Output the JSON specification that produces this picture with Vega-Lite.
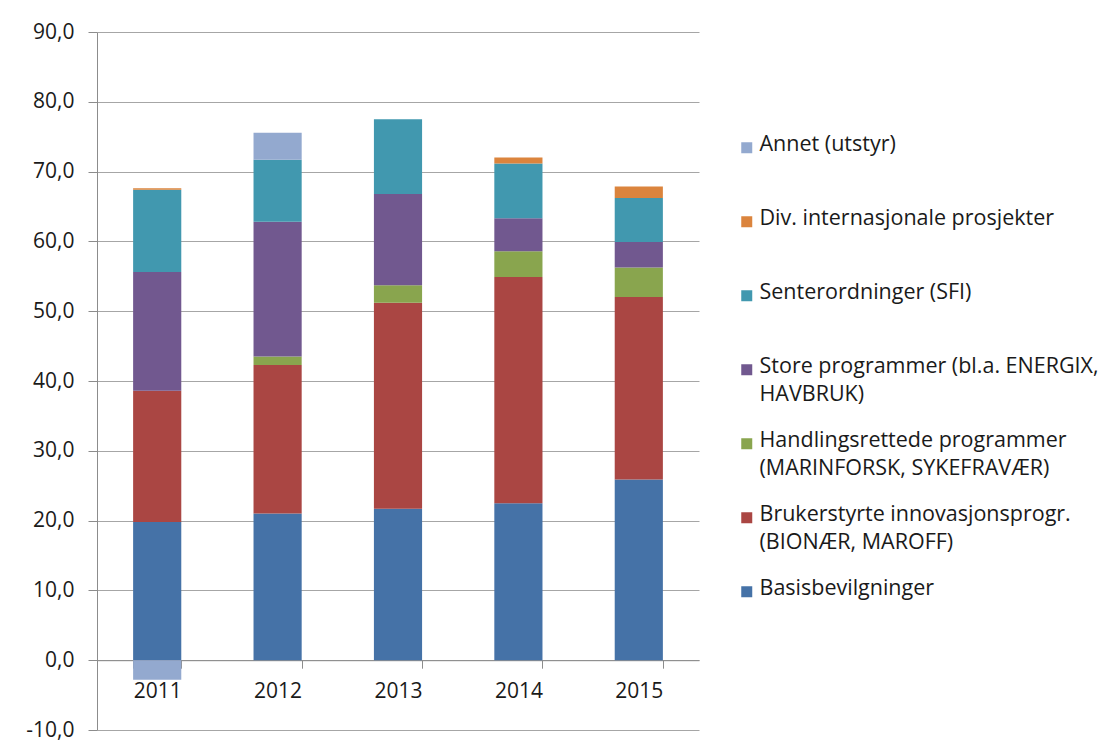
{
  "$schema": "https://vega.github.io/schema/vega-lite/v6.json",
  "width": 602,
  "height": 698,
  "autosize": "none",
  "padding": {"left": 97, "top": 32, "right": 407, "bottom": 23},
  "background": "white",
  "config": {
    "view": {"stroke": null},
    "font": "Open Sans",
    "axis": {"labelFont": "Open Sans", "labelFontSize": 21, "labelColor": "#1a1a1a", "domainColor": "#8c8c8c", "tickColor": "#8c8c8c", "gridColor": "#a6a6a6"}
  },
  "data": {
    "values": [
      {"year": "2011", "cat": "Basisbevilgninger", "value": 19.8},
      {"year": "2011", "cat": "Brukerstyrte innovasjonsprogr. (BIONÆR, MAROFF)", "value": 18.8},
      {"year": "2011", "cat": "Store programmer (bl.a. ENERGIX, HAVBRUK)", "value": 17.0},
      {"year": "2011", "cat": "Senterordninger (SFI)", "value": 11.8},
      {"year": "2011", "cat": "Div. internasjonale prosjekter", "value": 0.2},
      {"year": "2011", "cat": "Annet (utstyr)", "value": -2.8},
      {"year": "2012", "cat": "Basisbevilgninger", "value": 21.0},
      {"year": "2012", "cat": "Brukerstyrte innovasjonsprogr. (BIONÆR, MAROFF)", "value": 21.3},
      {"year": "2012", "cat": "Handlingsrettede programmer (MARINFORSK, SYKEFRAVÆR)", "value": 1.2},
      {"year": "2012", "cat": "Store programmer (bl.a. ENERGIX, HAVBRUK)", "value": 19.3},
      {"year": "2012", "cat": "Senterordninger (SFI)", "value": 8.9},
      {"year": "2012", "cat": "Annet (utstyr)", "value": 3.85},
      {"year": "2013", "cat": "Basisbevilgninger", "value": 21.7},
      {"year": "2013", "cat": "Brukerstyrte innovasjonsprogr. (BIONÆR, MAROFF)", "value": 29.5},
      {"year": "2013", "cat": "Handlingsrettede programmer (MARINFORSK, SYKEFRAVÆR)", "value": 2.5},
      {"year": "2013", "cat": "Store programmer (bl.a. ENERGIX, HAVBRUK)", "value": 13.1},
      {"year": "2013", "cat": "Senterordninger (SFI)", "value": 10.7},
      {"year": "2014", "cat": "Basisbevilgninger", "value": 22.5},
      {"year": "2014", "cat": "Brukerstyrte innovasjonsprogr. (BIONÆR, MAROFF)", "value": 32.4},
      {"year": "2014", "cat": "Handlingsrettede programmer (MARINFORSK, SYKEFRAVÆR)", "value": 3.7},
      {"year": "2014", "cat": "Store programmer (bl.a. ENERGIX, HAVBRUK)", "value": 4.7},
      {"year": "2014", "cat": "Senterordninger (SFI)", "value": 7.85},
      {"year": "2014", "cat": "Div. internasjonale prosjekter", "value": 0.86},
      {"year": "2015", "cat": "Basisbevilgninger", "value": 25.9},
      {"year": "2015", "cat": "Brukerstyrte innovasjonsprogr. (BIONÆR, MAROFF)", "value": 26.15},
      {"year": "2015", "cat": "Handlingsrettede programmer (MARINFORSK, SYKEFRAVÆR)", "value": 4.2},
      {"year": "2015", "cat": "Store programmer (bl.a. ENERGIX, HAVBRUK)", "value": 3.65},
      {"year": "2015", "cat": "Senterordninger (SFI)", "value": 6.3},
      {"year": "2015", "cat": "Div. internasjonale prosjekter", "value": 1.67}
    ]
  },
  "transform": [
    {"calculate": "indexof(['Basisbevilgninger', 'Brukerstyrte innovasjonsprogr. (BIONÆR, MAROFF)', 'Handlingsrettede programmer (MARINFORSK, SYKEFRAVÆR)', 'Store programmer (bl.a. ENERGIX, HAVBRUK)', 'Senterordninger (SFI)', 'Div. internasjonale prosjekter', 'Annet (utstyr)'], datum.cat)", "as": "stackOrder"}
  ],
  "mark": {"type": "bar"},
  "encoding": {
    "x": {
      "field": "year", "type": "nominal",
      "scale": {"paddingInner": 0.6, "paddingOuter": 0.3},
      "axis": {"title": null, "labelAngle": 0, "offset": -69.8, "tickBand": "extent", "tickSize": 8, "labelPadding": 12, "domainWidth": 1}
    },
    "y": {
      "field": "value", "type": "quantitative", "stack": "zero",
      "scale": {"domain": [-10, 90], "nice": false, "zero": false},
      "axis": {"title": null, "values": [-10, 0, 10, 20, 30, 40, 50, 60, 70, 80, 90], "tickSize": 9, "labelPadding": 14,
        "labelExpr": "replace(replace(format(datum.value, '.1f'), '.', ','), '\u2212', '-')", "grid": true}
    },
    "order": {"field": "stackOrder", "type": "quantitative", "sort": "ascending"},
    "color": {
      "field": "cat", "type": "nominal",
      "scale": {
        "domain": ["Basisbevilgninger", "Brukerstyrte innovasjonsprogr. (BIONÆR, MAROFF)", "Handlingsrettede programmer (MARINFORSK, SYKEFRAVÆR)", "Store programmer (bl.a. ENERGIX, HAVBRUK)", "Senterordninger (SFI)", "Div. internasjonale prosjekter", "Annet (utstyr)"],
        "range": ["#4572A7", "#AA4643", "#89A54E", "#71588F", "#4198AF", "#DB843D", "#93A9CF"]
      },
      "legend": {
        "title": null,
        "orient": "none",
        "legendX": 639,
        "legendY": 105,
        "padding": 0,
        "values": ["Annet (utstyr)", "Div. internasjonale prosjekter", "Senterordninger (SFI)", "Store programmer (bl.a. ENERGIX, HAVBRUK)", "Handlingsrettede programmer (MARINFORSK, SYKEFRAVÆR)", "Brukerstyrte innovasjonsprogr. (BIONÆR, MAROFF)", "Basisbevilgninger"],
        "symbolType": "square",
        "symbolSize": 121,
        "symbolStrokeWidth": 0,
        "labelFont": "Open Sans",
        "labelFontSize": 21.5,
        "labelColor": "#1a1a1a",
        "labelLimit": 500,
        "labelOffset": 2,
        "labelBaseline": "top",
        "rowPadding": 23,
        "labelExpr": "datum.label == 'Store programmer (bl.a. ENERGIX, HAVBRUK)' ? ['Store programmer (bl.a. ENERGIX,', 'HAVBRUK)'] : datum.label == 'Handlingsrettede programmer (MARINFORSK, SYKEFRAVÆR)' ? ['Handlingsrettede programmer', '(MARINFORSK, SYKEFRAVÆR)'] : datum.label == 'Brukerstyrte innovasjonsprogr. (BIONÆR, MAROFF)' ? ['Brukerstyrte innovasjonsprogr.', '(BIONÆR, MAROFF)'] : [datum.label, '']",
        "encode": {"labels": {"update": {"dy": {"value": -14}, "lineHeight": {"value": 28}}}}
      }
    }
  }
}
